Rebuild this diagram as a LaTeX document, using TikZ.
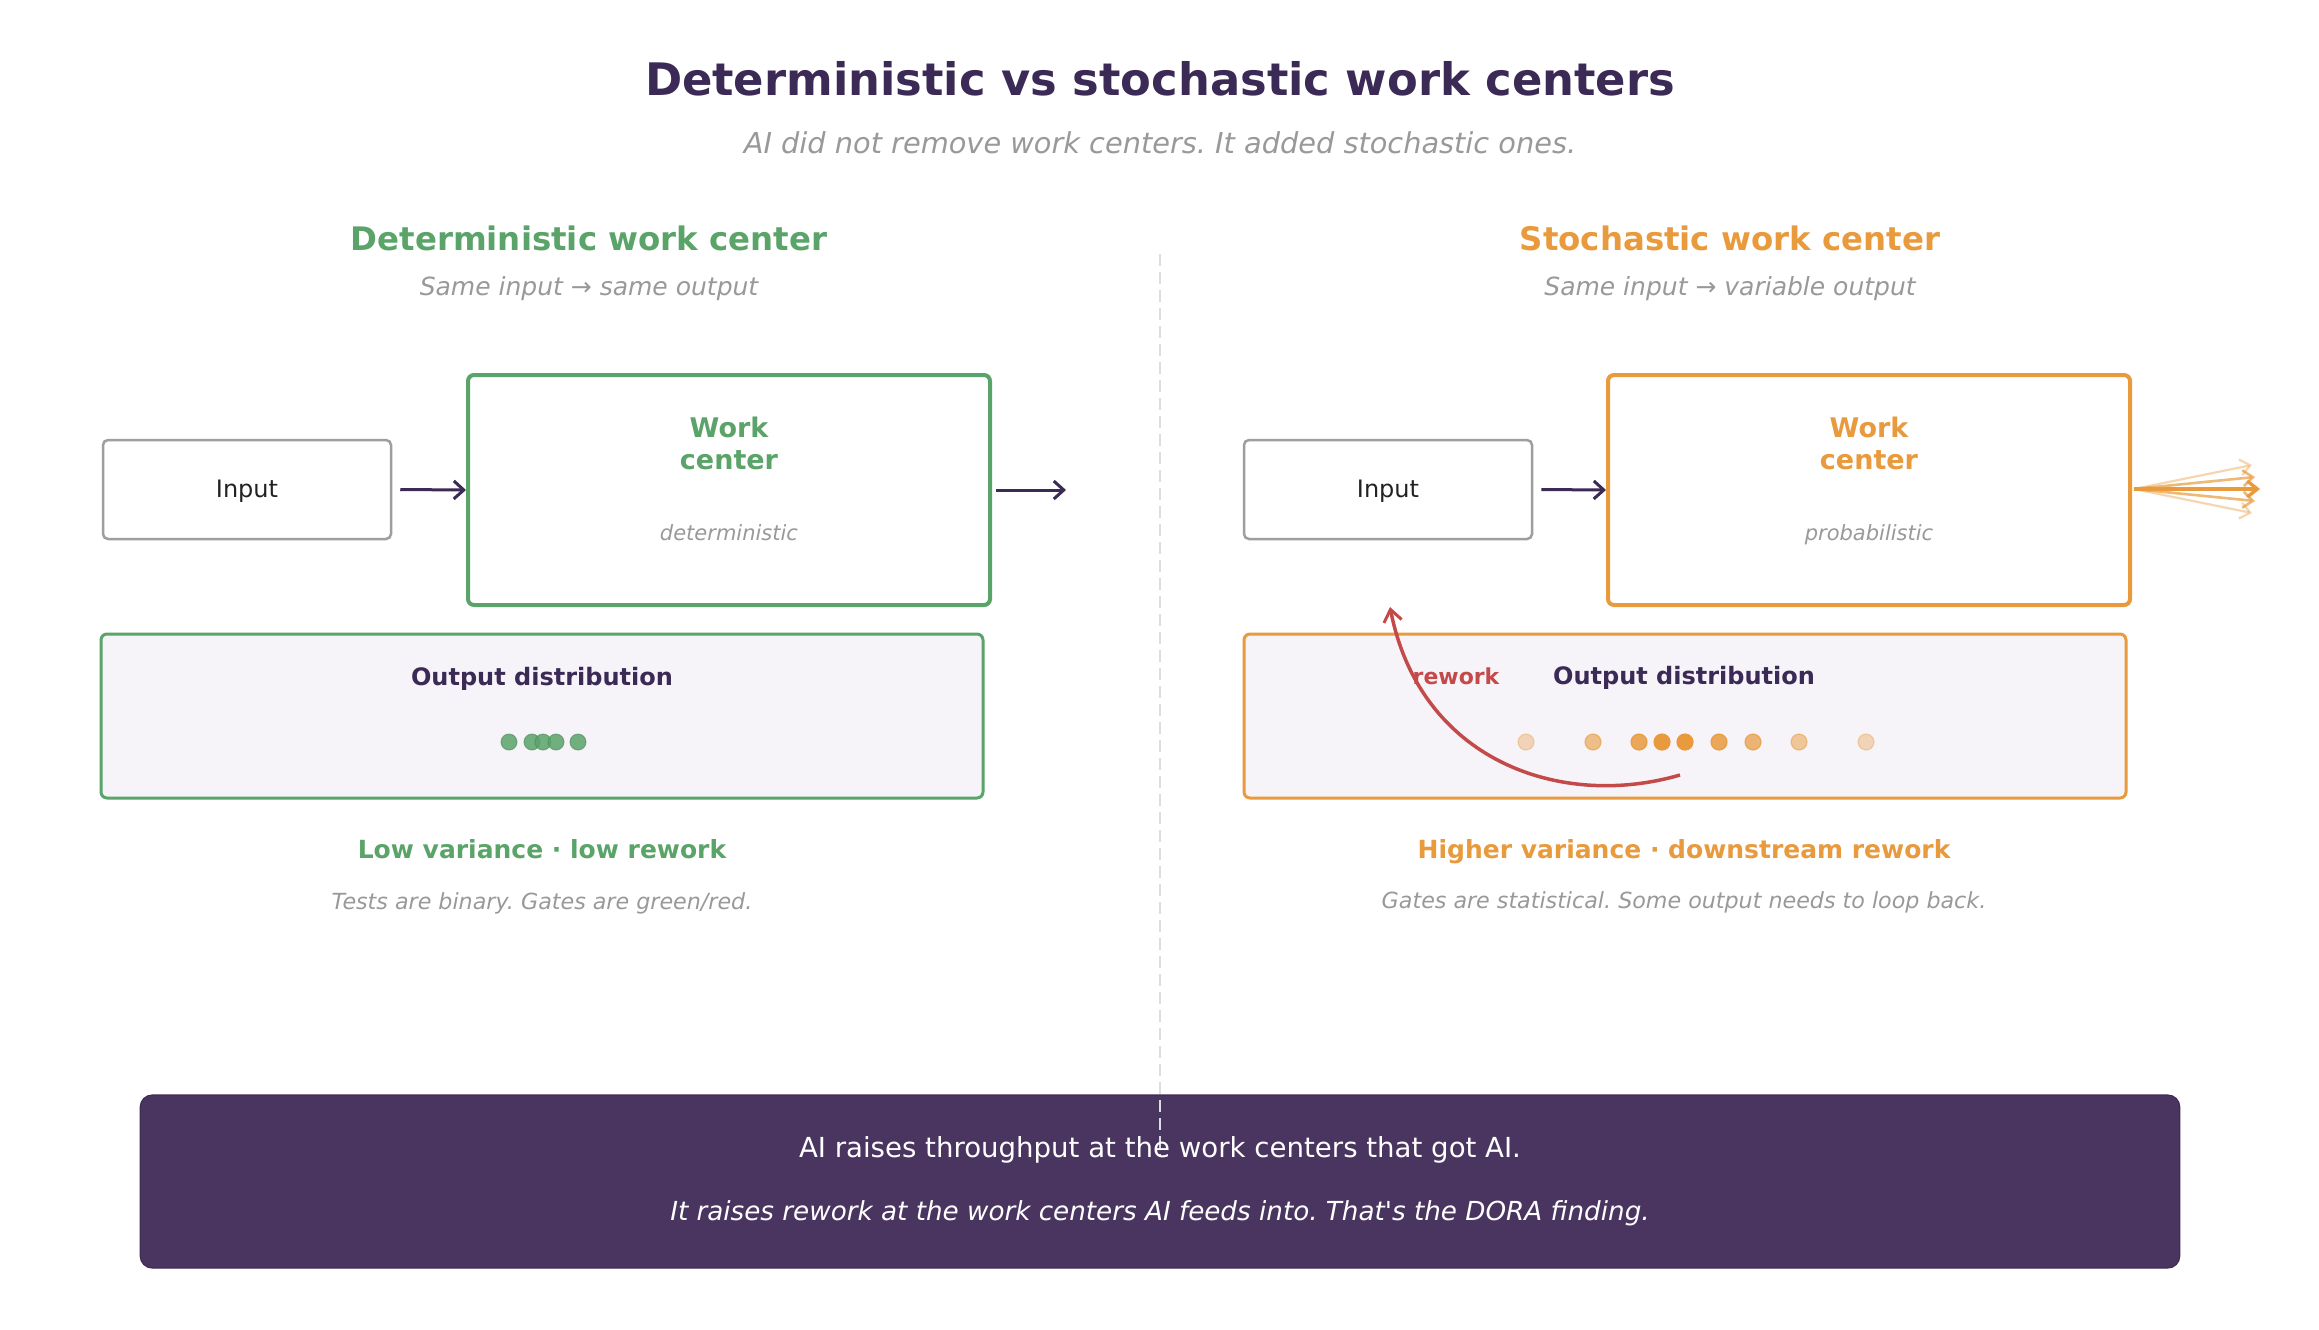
\documentclass[tikz,border=0pt]{standalone}
\usepackage{fontspec}
\setmainfont{DejaVu Sans}
\newfontfamily\plainfont{DejaVu Sans}
\usetikzlibrary{arrows.meta}
\frenchspacing
\definecolor{ttl}{HTML}{3C2A56}
\definecolor{grn}{HTML}{5AA469}
\definecolor{org}{HTML}{E89A3C}
\definecolor{gtx}{HTML}{999999}
\definecolor{gbd}{HTML}{9E9E9E}
\definecolor{lfill}{HTML}{F6F4F9}
\definecolor{ban}{HTML}{4A3560}
\definecolor{rwk}{HTML}{C44A4A}
\definecolor{dvd}{HTML}{DDDDDD}
\definecolor{ink}{HTML}{222222}
\tikzset{
  fs/.style={font=\fontsize{#1}{#1}\selectfont},
  lbl/.style={inner sep=0pt, anchor=base},
  inbox/.style={draw=gbd, line width=1.25pt, rounded corners=2.5pt, fill=white,
     minimum width=144pt, minimum height=49.5pt, inner sep=0pt},
  wcbox/.style={draw=#1, line width=2pt, rounded corners=3pt, fill=white,
     minimum width=261pt, minimum height=115pt, inner sep=0pt},
  distbox/.style={draw=#1, line width=1.5pt, rounded corners=3pt, fill=lfill,
     minimum width=441pt, minimum height=82pt, inner sep=0pt},
  flow/.style={draw=ttl, line width=1.5pt, -{Straight Barb[length=5pt,width=9pt,line width=1.5pt]}},
  fan/.style={draw=org, line width=#1, -{Straight Barb[length=5pt,width=8pt]}},
  gdot/.style={circle, fill=grn, fill opacity=0.85, draw=grn!85!black, draw opacity=0.6, line width=0.5pt, minimum size=8pt, inner sep=0pt},
  odot/.style={circle, fill=org, fill opacity=#1, draw=org, draw opacity=#1, line width=0.6pt, minimum size=8pt, inner sep=0pt},
}
\begin{document}
\begin{tikzpicture}[x=0.5pt,y=-0.5pt]
\useasboundingbox[fill=white] (0,0) rectangle (2319,1329);

% titles
\node[lbl, fs=22.4, text=ttl] (title) at (1160,95) {\bfseries Deterministic vs stochastic work centers};
\node[lbl, fs=14.4, text=gtx] (sub) at (1160,153) {\itshape AI did not remove work centers. It added stochastic ones.};

\node[lbl, fs=16.2, text=grn] (hL) at (589,250) {\bfseries Deterministic work center};
\node[lbl, fs=12.5, text=gtx] (shL) at (589,295) {\itshape Same input → same output};
\node[lbl, fs=16.2, text=org] (hR) at (1730,250) {\bfseries Stochastic work center};
\node[lbl, fs=12.5, text=gtx] (shR) at (1730,295) {\itshape Same input → variable output};

% left side
\node[inbox] (inL) at (247,489.5) {};
\node[lbl, fs=12, text=ink] (inLt) at (247,497) {Input};
\node[wcbox=grn] (wcL) at (729,490) {};
\node[lbl, fs=13.5, text=grn] (wcLa) at (729,437) {\bfseries Work};
\node[lbl, fs=13.5, text=grn] (wcLb) at (729,469) {\bfseries center};
\node[lbl, fs=10.5, text=gtx] (wcLc) at (729,540) {\itshape deterministic};
\coordinate (outL) at (1066,490);
\draw[flow] (inL.east) ++(8,0) -- (wcL.west);
\draw[flow] (wcL.east) ++(4,0) -- (outL);

\node[distbox=grn] (dL) at (542,716) {};
\node[lbl, fs=12, text=ttl] (dLt) at (542,685) {\bfseries Output distribution};
\foreach \x/\n in {509/a,532/b,543/c,556/d,578/e}
  \node[gdot] (gd\n) at (\x,742) {};
\node[lbl, fs=12.5, text=grn] (vL) at (542,858) {\bfseries Low variance · low rework};
\node[lbl, fs=11.1, text=gtx] (nL) at (542,909) {\itshape Tests are binary. Gates are green/red.};

% right side
\node[inbox] (inR) at (1388,489.5) {};
\node[lbl, fs=12, text=ink] (inRt) at (1388,497) {Input};
\node[wcbox=org] (wcR) at (1869,490) {};
\node[lbl, fs=13.5, text=org] (wcRa) at (1869,437) {\bfseries Work};
\node[lbl, fs=13.5, text=org] (wcRb) at (1869,469) {\bfseries center};
\node[lbl, fs=10.5, text=gtx] (wcRc) at (1869,540) {\itshape probabilistic};
\draw[flow] (inR.east) ++(8,0) -- (wcR.west);

\coordinate (fs) at (2134,489);
\coordinate (f1) at (2252,465);
\coordinate (f2) at (2255,477);
\coordinate (f3) at (2260,489);
\coordinate (f4) at (2255,501);
\coordinate (f5) at (2252,513);
\draw[fan=1.1pt, draw opacity=0.4] (fs) -- (f1);
\draw[fan=1.1pt, draw opacity=0.4] (fs) -- (f5);
\draw[fan=1.3pt, draw opacity=0.7] (fs) -- (f2);
\draw[fan=1.3pt, draw opacity=0.7] (fs) -- (f4);
\draw[fan=1.7pt] (fs) -- (f3);

\node[distbox=org] (dR) at (1685,716) {};
\node[lbl, fs=12, text=ttl] (dRt) at (1684,684) {\bfseries Output distribution};
\node[lbl, fs=11, text=rwk] (rw) at (1456,684) {\bfseries rework};
\foreach \x/\o/\n in {1526/0.35/a,1593/0.6/b,1639/0.85/c,1662/1/d,1685/1/e,1719/0.85/f,1753/0.7/g,1799/0.5/h,1866/0.35/i}
  \node[odot=\o] (od\n) at (\x,742) {};
\coordinate (rwS) at (1680,775);
\coordinate (rwE) at (1390,607);
\draw[draw=rwk, line width=1.75pt, -{Straight Barb[length=6pt,width=9pt,line width=1.5pt]}]
  (rwS) .. controls (1560,810) and (1420,760) .. (rwE);
\node[lbl, fs=12.5, text=org] (vR) at (1684,858) {\bfseries Higher variance · downstream rework};
\node[lbl, fs=11.1, text=gtx] (nR) at (1684,908) {\itshape Gates are statistical. Some output needs to loop back.};

% banner
\node[draw=ban!85!black, line width=0.6pt, fill=ban, rounded corners=6pt, minimum width=1019.75pt, minimum height=86.5pt, inner sep=0pt] (bn) at (1160,1181.5) {};
\coordinate (dvT) at (1160,254);
\coordinate (dvB) at (1160,1155);
\draw[dvd, line width=1.25pt, dash pattern=on 6pt off 3pt] (dvT) -- (dvB);
\node[lbl, fs=13.8, text=white] (b1) at (1160,1157) {AI raises throughput at the work centers that got AI.};
\node[lbl, fs=13.1, text=white] (b2) at (1160,1220) {\plainfont\itshape It raises rework at the work centers AI feeds into. That's the DORA finding.};
\end{tikzpicture}
\end{document}
